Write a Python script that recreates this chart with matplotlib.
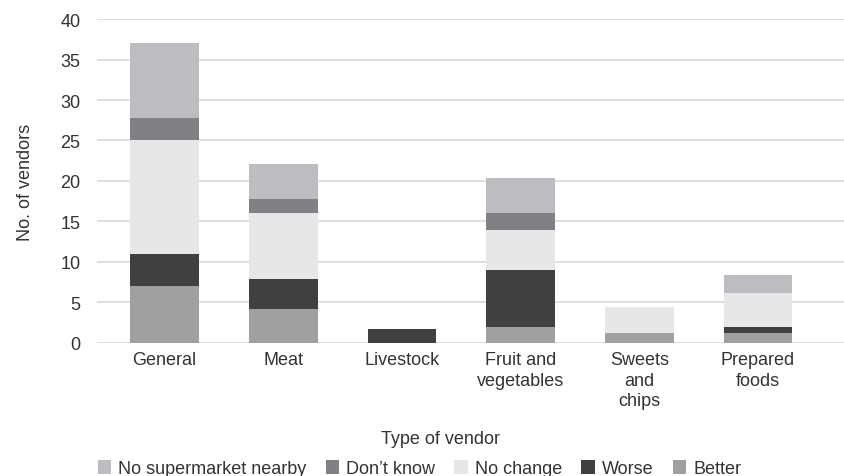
import matplotlib.pyplot as plt
import numpy as np

plt.rcParams['font.family'] = ['Liberation Sans', 'DejaVu Sans']

categories = ['General', 'Meat', 'Livestock', 'Fruit and\nvegetables', 'Sweets\nand\nchips', 'Prepared\nfoods']
better = [7.0, 4.2, 0.0, 2.0, 1.2, 1.2]
worse = [4.0, 3.7, 1.7, 7.0, 0.0, 0.8]
no_change = [14.0, 8.1, 0.0, 5.0, 3.2, 4.2]
dont_know = [2.8, 1.8, 0.0, 2.1, 0.0, 0.0]
no_supermarket = [9.2, 4.3, 0.0, 4.3, 0.0, 2.2]

series = [
    ('Better', better, '#a0a0a3'),
    ('Worse', worse, '#404040'),
    ('No change', no_change, '#e6e7e8'),
    ("Don\u2019t know", dont_know, '#808184'),
    ('No supermarket nearby', no_supermarket, '#bcbdc0'),
]
txt = '#333333'
fs = 13

fig = plt.figure(figsize=(8.44, 4.77), dpi=100)
ax = fig.add_axes([0.115, 0.279, 0.885, 0.679])

x = np.arange(len(categories))
bottom = np.zeros(len(categories))
handles = {}
for name, vals, col in series:
    vals = np.array(vals)
    b = ax.bar(x, vals, 0.58, bottom=bottom, color=col, zorder=2, label=name)
    handles[name] = b
    bottom += vals

ax.set_xlim(-0.569, 5.725)
ax.set_ylim(0, 40)
ax.set_yticks(range(0, 41, 5))
ax.yaxis.grid(True, color='#d9d9da', linewidth=1.2, zorder=0)
for s in ax.spines.values():
    s.set_visible(False)
ax.tick_params(axis='both', length=0, labelsize=fs, colors=txt)
ax.tick_params(axis='y', pad=12)
ax.tick_params(axis='x', pad=6)
ax.set_xticks(x)
ax.set_xticklabels(categories, va='top', linespacing=1.25)

ax.set_ylabel('No. of vendors', fontsize=fs, color=txt, labelpad=19)
fig.text(0.522, 0.07, 'Type of vendor', ha='center', fontsize=fs, color=txt)

order = ['No supermarket nearby', "Don\u2019t know", 'No change', 'Worse', 'Better']
fig.legend([handles[n] for n in order], order, loc='center', bbox_to_anchor=(0.497, 0.015),
           ncol=5, frameon=False, fontsize=fs, handlelength=0.75, handleheight=0.75,
           handletextpad=0.4, columnspacing=1.05, labelcolor=txt, borderpad=0)

fig.savefig('out.png', dpi=100)
